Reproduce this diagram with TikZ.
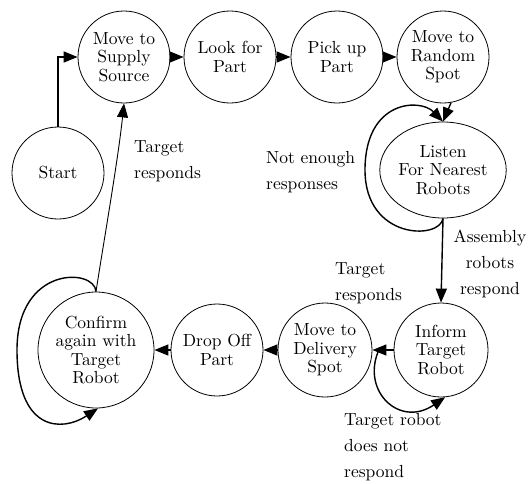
\documentclass[tikz,border=0pt]{standalone}
\usepackage{fontspec}
\setmainfont{lmroman10-regular.otf}
\usetikzlibrary{arrows.meta,shapes.geometric}
\begin{document}
\begin{tikzpicture}[x=1pt,y=-1pt,
  state/.style={circle,draw,line width=0.8pt,inner sep=0pt,minimum size=92pt,align=center,font=\fontsize{17.5}{18.3}\selectfont},
  lbl/.style={align=left,font=\fontsize{17.5}{26}\selectfont,inner sep=0pt},
  arr/.style={line width=1.4pt,-{Triangle[length=14pt,width=11pt]}},
  tarr/.style={line width=0.9pt,-{Triangle[length=14pt,width=11pt]}}]
\useasboundingbox (0,0) rectangle (532,483);
\node[state] (start) at (58,173) {Start};
\node[state] (supply) at (124,57) {Move to\\Supply\\Source};
\node[state] (look) at (230,57) {Look for\\Part};
\node[state] (pick) at (337,57) {Pick up\\Part};
\node[state] (random) at (443,57) {Move to\\Random\\Spot};
\node[state,ellipse,minimum width=110pt,minimum height=96pt] (listen) at (443,170) {Listen\\For Nearest\\Robots};
\node[state,minimum size=94pt] (inform) at (441,350) {Inform\\Target\\Robot};
\node[state,minimum size=94pt] (delivery) at (325,350) {Move to\\Delivery\\Spot};
\node[state] (drop) at (217,350) {Drop Off\\Part};
\node[state,minimum size=116pt] (confirm) at (96,350) {Confirm\\again with\\Target\\Robot};
\coordinate (loopstart) at (378,352);
% labels
\node[lbl,anchor=west] (l1) at (134,161) {Target\\responds};
\node[lbl,anchor=west] (l2) at (266,172) {Not enough\\responses};
\node[lbl,align=center] (l3) at (490,264) {Assembly\\robots\\respond};
\node[lbl,anchor=west] (l4) at (335,283) {Target\\responds};
\node[lbl,anchor=west] (l5) at (344,447) {Target robot\\does not\\respond};
% connectors
\draw[arr] (start.north) |- (supply.west);
\draw[arr] (supply) -- (look);
\draw[arr] (look) -- (pick);
\draw[arr] (pick) -- (random);
\draw[arr] (random.-80) -- (listen.north);
\draw[arr] (listen.south) .. controls (440,240) and (365,240) .. (365,170)
  .. controls (365,100) and (420,98) .. (listen.north);
\draw[arr] (listen.south) -- (inform.north);
\draw[arr] (inform) -- (delivery);
\draw[arr] (loopstart) .. controls (362,392) and (400,428) .. (inform.-85);
\draw[arr] (delivery) -- (drop);
\draw[arr] (drop) -- (confirm);
\draw[arr] (confirm.north) .. controls (95,268) and (17,265) .. (17,350)
  .. controls (17,432) and (62,432) .. (confirm.-88);
\draw[tarr] (confirm.north) .. controls (104,240) and (118,160) .. (supply.south);
\end{tikzpicture}
\end{document}
